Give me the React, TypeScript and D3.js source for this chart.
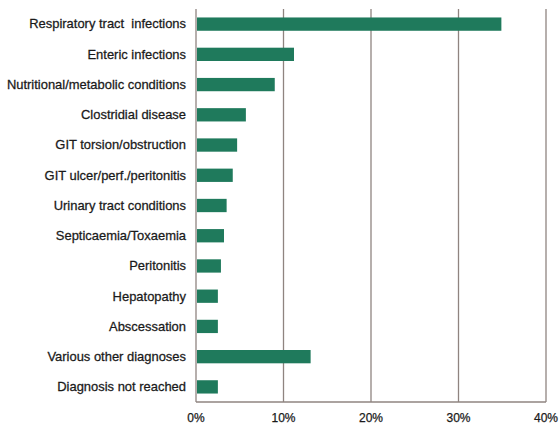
import React from "react";
import * as d3 from "d3";

const categories = [
  "Respiratory tract  infections",
  "Enteric infections",
  "Nutritional/metabolic conditions",
  "Clostridial disease",
  "GIT torsion/obstruction",
  "GIT ulcer/perf./peritonitis",
  "Urinary tract conditions",
  "Septicaemia/Toxaemia",
  "Peritonitis",
  "Hepatopathy",
  "Abscessation",
  "Various other diagnoses",
  "Diagnosis not reached",
];
const values = [34.9, 11.2, 9.0, 5.7, 4.7, 4.2, 3.5, 3.2, 2.85, 2.5, 2.5, 13.1, 2.5];
const ticks = [0, 10, 20, 30, 40];

const W = 560;
const H = 424;
const left = 196;
const right = 546;
const top = 9;
const bottom = 402;

export default function App() {
  const x = d3.scaleLinear().domain([0, 40]).range([left, right]);
  const y = d3
    .scaleBand<string>()
    .domain(categories)
    .range([top, bottom])
    .paddingInner(0.56)
    .paddingOuter(0.28);
  const font = "'Liberation Sans', Arial, Helvetica, sans-serif";
  return (
    <svg
      width={W}
      height={H}
      style={{ position: "absolute", left: 0, top: 0, background: "#fff" }}
    >
      {ticks.map((t) => (
        <line
          key={"g" + t}
          x1={x(t)}
          x2={x(t)}
          y1={top}
          y2={bottom}
          stroke="#8f8480"
          strokeWidth={1.3}
        />
      ))}
      <line x1={left} x2={right} y1={bottom} y2={bottom} stroke="#8f8480" strokeWidth={1.3} />
      {categories.map((c, i) => (
        <g key={c}>
          <rect
            x={x(0) + 1}
            y={y(c)!}
            width={x(values[i]) - x(0) - 1}
            height={y.bandwidth()}
            fill="#1f7a5c"
          />
          <g transform={`translate(186,${y(c)! + y.bandwidth() / 2}) scale(1.08,1)`}>
            <text
              x={0}
              y={0}
              dy="0.36em"
              textAnchor="end"
              fontFamily={font}
              fontSize={12}
              fill="#1a1a1a"
              stroke="#1a1a1a"
              strokeWidth={0.25}
              style={{ whiteSpace: "pre" }}
            >
              {c}
            </text>
          </g>
        </g>
      ))}
      {ticks.map((t) => (
        <text
          key={"t" + t}
          x={x(t)}
          y={422}
          textAnchor="middle"
          fontFamily={font}
          fontSize={12}
          fill="#1a1a1a"
          stroke="#1a1a1a"
          strokeWidth={0.25}
        >
          {t + "%"}
        </text>
      ))}
    </svg>
  );
}
